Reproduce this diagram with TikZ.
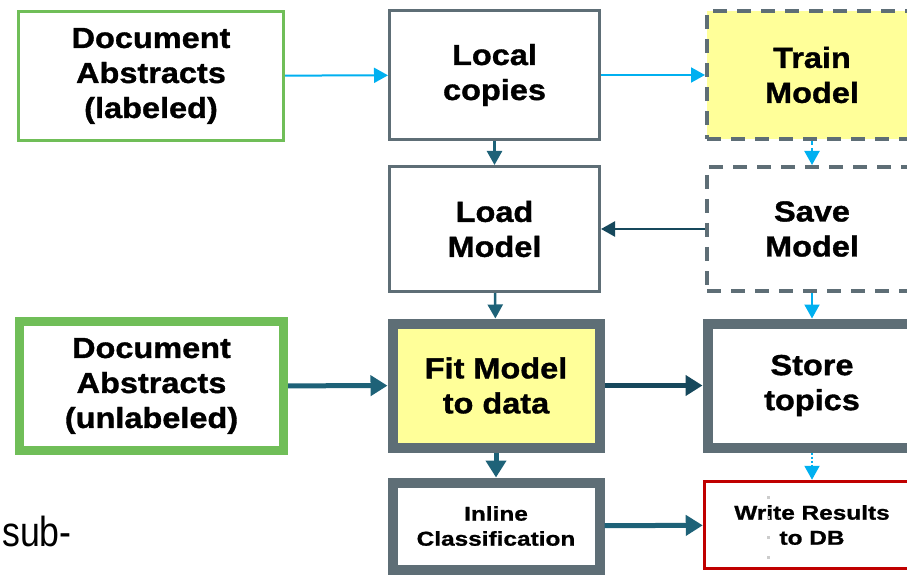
\documentclass[tikz,border=0pt]{standalone}
\usepackage{fontspec}
\setmainfont{Liberation Sans}
\newfontfamily\boxfont{Liberation Sans}[FakeStretch=1.12,BoldFeatures={FakeBold=1.2}]
\newfontfamily\smallboxfont{Liberation Sans}[FakeStretch=1.22,BoldFeatures={FakeBold=1}]
\newfontfamily\narrowfont{Liberation Sans}[FakeStretch=0.85]
\usepackage{tikz}
\usetikzlibrary{arrows.meta}
\definecolor{boxgreen}{RGB}{112,190,88}
\definecolor{boxgray}{RGB}{94,110,118}
\definecolor{boxyellow}{RGB}{255,255,153}
\definecolor{lightarrow}{RGB}{0,176,240}
\definecolor{tealarrow}{RGB}{30,98,120}
\definecolor{darkarrow}{RGB}{22,72,92}
\definecolor{boxred}{RGB}{192,0,0}
\tikzstyle{box} = [draw, rectangle, align=center, inner sep=0pt, font={\boxfont\bfseries\fontsize{29}{35}\selectfont}]
\tikzstyle{smalltext} = [font={\smallboxfont\bfseries\fontsize{20}{25}\selectfont}]
\tikzstyle{source} = [draw=boxgreen, line width=3pt]
\tikzstyle{stage} = [draw=boxgray, line width=3pt]
\tikzstyle{heavy} = [line width=10pt]
\tikzstyle{offline} = [draw=boxgray, line width=4pt, dash pattern=on 14pt off 10pt]
\tikzstyle{marked} = [fill=boxyellow]
\tikzstyle{lightflow} = [draw=lightarrow, line width=2pt, -{Triangle[length=14pt,width=15pt]}]
\tikzstyle{tealflow} = [draw=tealarrow, line width=2.5pt, -{Triangle[length=14pt,width=15pt]}]
\tikzstyle{darkflow} = [tealflow, draw=darkarrow]
\tikzstyle{bigflow} = [line width=5pt, -{Triangle[length=17pt,width=20pt]}]

\begin{document}
\begin{tikzpicture}[x=1pt,y=-1pt]
  \useasboundingbox (0,0) rectangle (907,577);
  \clip (0,0) rectangle (907,577);
  \node[box,source,minimum width=265pt,minimum height=129pt](labeled) at (151,76){Document\\Abstracts\\(labeled)};
  \node[box,stage,minimum width=210pt,minimum height=129pt](local) at (494.5,75){Local\\copies};
  \node[box,offline,marked,minimum width=210pt,minimum height=128pt](train) at (812,75){Train\\Model};
  \node[box,stage,minimum width=210pt,minimum height=125pt](load) at (494.5,229){Load\\Model};
  \node[box,offline,minimum width=210pt,minimum height=124pt](save) at (812,229){Save\\Model};
  \node[box,source,heavy,line width=9pt,minimum width=264pt,minimum height=129pt](unlabeled) at (151.5,386){Document\\Abstracts\\(unlabeled)};
  \node[box,stage,heavy,marked,minimum width=207pt,minimum height=124pt](fit) at (496,385.5){Fit Model\\to data};
  \node[box,stage,heavy,minimum width=209pt,minimum height=124pt](store) at (812,385.5){Store\\topics};
  \node[box,stage,heavy,smalltext,minimum width=207pt,minimum height=87pt](inline) at (496,526){Inline\\Classification};
  \node[box,smalltext,draw=boxred,line width=3.5pt,minimum width=215pt,minimum height=87pt](write) at (812,525){Write Results\\to DB};
  \node[anchor=base west,inner sep=0pt,font={\narrowfont\fontsize{42}{50}\selectfont}](sub) at (2,546){sub-};
  % stray marks inside the red box
  \draw[black!20,line width=3pt,dash pattern=on 3pt off 17pt] (768,496) -- (768,565);
  \draw[lightflow](labeled)--(local);
  \draw[lightflow](local)--(train);
  \draw[tealflow](local)--(load);
  \draw[lightflow,dash pattern=on 4pt off 3pt](train)--(save);
  \draw[darkflow](save)--(load);
  \draw[tealflow](load)--(fit);
  \draw[lightflow](save)--(store);
  \draw[tealflow,bigflow](unlabeled)--(fit);
  \draw[darkflow,bigflow](fit)--(store);
  \draw[tealflow,bigflow](fit)--(inline);
  \draw[tealflow,bigflow](inline)--(write);
  \draw[lightflow,dotted](store)--(write);
\end{tikzpicture}
\end{document}
